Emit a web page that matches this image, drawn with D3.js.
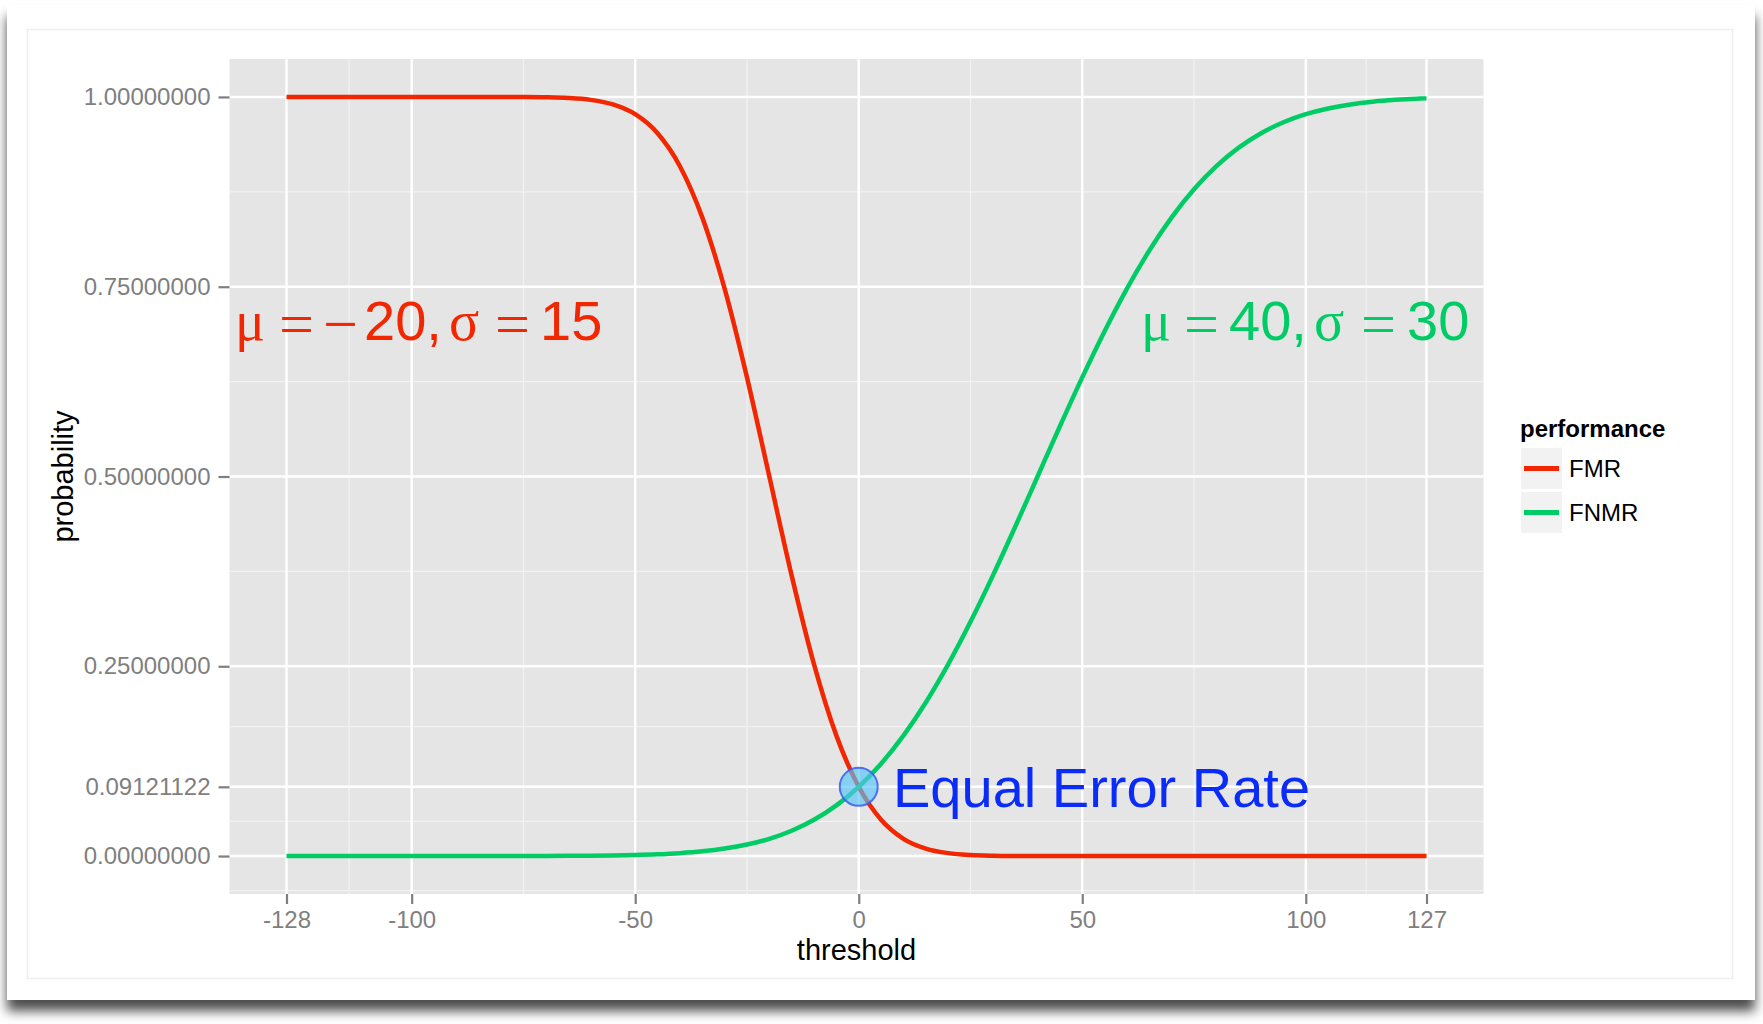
<!DOCTYPE html>
<html>
<head>
<meta charset="utf-8">
<script src="https://cdn.jsdelivr.net/npm/d3@7"></script>
<style>
  body { margin: 0; background: #ffffff; }
  text { font-family: "Liberation Sans", Arial, Helvetica, sans-serif; }
</style>
</head>
<body>
<div id="figure"></div>
<script>
// threshold values
const thresholds = [-128, -125, -120, -115, -110, -105, -100, -95, -90, -85, -80, -75, -70, -65, -60, -55,
  -50, -45, -40, -35, -30, -25, -20, -15, -10, -5, 0, 5, 10, 15, 20, 25, 30, 35, 40, 45, 50, 55,
  60, 65, 70, 75, 80, 85, 90, 95, 100, 105, 110, 115, 120, 125, 127];

// FMR curve (red)
const fmr = [1, 1, 1, 1, 1, 1, 1, 1, 1, 0.99999, 0.99997, 0.99988, 0.99957, 0.99865, 0.99617, 0.99018,
  0.97725, 0.95221, 0.90879, 0.84134, 0.74751, 0.63056, 0.5, 0.36944, 0.25249, 0.15866, 0.09121, 0.04779,
  0.02275, 0.00982, 0.00383, 0.00135, 0.00043, 0.00012, 0.00003, 0, 0, 0, 0, 0, 0, 0, 0, 0, 0, 0, 0, 0,
  0, 0, 0, 0, 0];

// FNMR curve (green)
const fnmr = [0, 0, 0, 0, 0, 0.000001, 0.000002, 0.000003, 0.000007, 0.000015, 0.00003, 0.00006, 0.00012,
  0.00023, 0.00043, 0.00077, 0.00135, 0.0023, 0.00383, 0.00621, 0.00982, 0.01513, 0.02275, 0.03338,
  0.04779, 0.06681, 0.09121, 0.12167, 0.15866, 0.20233, 0.25249, 0.30854, 0.36944, 0.43381, 0.5,
  0.56619, 0.63056, 0.69146, 0.74751, 0.79767, 0.84134, 0.87833, 0.90879, 0.93319, 0.95221, 0.96662,
  0.97725, 0.98487, 0.99018, 0.99379, 0.99617, 0.9977, 0.99813];

const xBreaks = [-128, -100, -50, 0, 50, 100, 127];
const xMinor = [-114, -75, -25, 25, 75, 113.5];
const yBreaks = [0, 0.09121122, 0.25, 0.5, 0.75, 1];
const yTickLabels = ["0.00000000", "0.09121122", "0.25000000", "0.50000000", "0.75000000", "1.00000000"];
const yMinor = [-0.0456, 0.0456, 0.1706, 0.375, 0.625, 0.875];

const seriesNames = ["FMR", "FNMR"];
const seriesColors = ["#f22600", "#00cc66"];
const eer = {threshold: 0, value: 0.09121122};

const W = 1763, H = 1024;
const panel = {left: 229.5, right: 1483.5, top: 59, bottom: 894};

var svg = d3.select("#figure").append("svg")
  .attr("width", W)
  .attr("height", H);

// card with drop shadow
var defs = svg.append("defs");
var f = defs.append("filter").attr("id", "shadow")
  .attr("x", "-5%").attr("y", "-5%").attr("width", "110%").attr("height", "115%");
f.append("feDropShadow")
  .attr("dx", 0).attr("dy", 11).attr("stdDeviation", 6)
  .attr("flood-color", "#000").attr("flood-opacity", 0.7);

svg.append("rect")
  .attr("x", 7).attr("y", 5).attr("width", 1748).attr("height", 995)
  .attr("fill", "#ffffff")
  .attr("filter", "url(#shadow)");
svg.append("rect")
  .attr("x", 27.5).attr("y", 29.5).attr("width", 1705).attr("height", 949)
  .attr("fill", "#ffffff")
  .attr("stroke", "#eeeeee")
  .attr("stroke-width", 1.5);

var x = d3.scaleLinear()
  .domain([-140.75, 139.75])
  .range([panel.left, panel.right]);
var y = d3.scaleLinear()
  .domain([-0.05, 1.05])
  .range([panel.bottom, panel.top]);

// panel background
svg.append("rect")
  .attr("x", panel.left).attr("y", panel.top)
  .attr("width", panel.right - panel.left).attr("height", panel.bottom - panel.top)
  .attr("fill", "#e5e5e5");

// minor grid
svg.append("g").selectAll("line").data(xMinor).enter().append("line")
  .attr("x1", d => x(d)).attr("x2", d => x(d))
  .attr("y1", panel.top).attr("y2", panel.bottom)
  .attr("stroke", "#f2f2f2").attr("stroke-width", 1.2);
svg.append("g").selectAll("line").data(yMinor).enter().append("line")
  .attr("y1", d => y(d)).attr("y2", d => y(d))
  .attr("x1", panel.left).attr("x2", panel.right)
  .attr("stroke", "#f2f2f2").attr("stroke-width", 1.2);

// major grid
svg.append("g").selectAll("line").data(xBreaks).enter().append("line")
  .attr("x1", d => x(d)).attr("x2", d => x(d))
  .attr("y1", panel.top).attr("y2", panel.bottom)
  .attr("stroke", "#ffffff").attr("stroke-width", 2.4);
svg.append("g").selectAll("line").data(yBreaks).enter().append("line")
  .attr("y1", d => y(d)).attr("y2", d => y(d))
  .attr("x1", panel.left).attr("x2", panel.right)
  .attr("stroke", "#ffffff").attr("stroke-width", 2.4);

// axes
var xAxis = svg.append("g")
  .attr("transform", "translate(0," + panel.bottom + ")")
  .call(d3.axisBottom(x).tickValues(xBreaks).tickSize(10).tickPadding(7).tickFormat(d => String(d)));
var yAxis = svg.append("g")
  .attr("transform", "translate(" + panel.left + ",0)")
  .call(d3.axisLeft(y).tickValues(yBreaks).tickSize(11).tickPadding(8)
    .tickFormat((d, i) => yTickLabels[i]));
[xAxis, yAxis].forEach(function(a) {
  a.select(".domain").remove();
  a.selectAll(".tick line").attr("stroke", "#7f7f7f").attr("stroke-width", 2.2);
  a.selectAll(".tick text").attr("fill", "#7f7f7f")
    .style("font-size", "24px")
    .style("font-family", "'Liberation Sans', Arial, sans-serif");
});

// axis titles
svg.append("text")
  .attr("x", (panel.left + panel.right) / 2).attr("y", 960)
  .attr("text-anchor", "middle")
  .style("font-size", "29px").attr("fill", "#000")
  .text("threshold");
svg.append("text")
  .attr("transform", "translate(73," + (panel.top + panel.bottom) / 2 + ") rotate(-90)")
  .attr("text-anchor", "middle")
  .style("font-size", "29px").attr("fill", "#000")
  .text("probability");

// curves
var line = d3.line()
  .x(d => x(d[0]))
  .y(d => y(d[1]))
  .curve(d3.curveMonotoneX);
[fmr, fnmr].forEach(function(vals, k) {
  svg.append("path")
    .datum(thresholds.map((t, i) => [t, vals[i]]))
    .attr("d", line)
    .attr("fill", "none")
    .attr("stroke", seriesColors[k])
    .attr("stroke-width", 4.5);
});

// equal error rate marker
svg.append("circle")
  .attr("cx", x(eer.threshold)).attr("cy", y(eer.value))
  .attr("r", 19)
  .attr("fill", "#55c3f7").attr("fill-opacity", 0.65)
  .attr("stroke", "#3a5cf5").attr("stroke-opacity", 0.85).attr("stroke-width", 2);
svg.append("text")
  .attr("x", 893).attr("y", 807)
  .style("font-size", "56px").attr("fill", "#0b2cf6")
  .text("Equal Error Rate");

// parameter annotations (plotmath style)
var serif = "'Liberation Serif', 'Times New Roman', serif";
var sans = "'Liberation Sans', Arial, sans-serif";
function mathLabel(pieces, color) {
  var t = svg.append("text")
    .attr("y", 340)
    .style("font-size", "56px")
    .attr("fill", color);
  pieces.forEach(function(p) {
    var s = t.append("tspan")
      .attr("x", p[0])
      .attr("y", p[3] ? 345 : 340)
      .style("font-family", p[2] ? serif : sans)
      .text(p[1]);
    if (p[3]) s.style("font-size", "62px");
  });
}
mathLabel([[235, "\u03bc", true], [279, "=", true, true], [323, "\u2212", true, true], [364, "20,", false],
  [449, "\u03c3", true], [495, "=", true, true], [540, "15", false]], seriesColors[0]);
mathLabel([[1141, "\u03bc", true], [1184, "=", true, true], [1229, "40,", false],
  [1314, "\u03c3", true], [1361, "=", true, true], [1407, "30", false]], seriesColors[1]);

// legend
svg.append("text")
  .attr("x", 1520).attr("y", 437)
  .style("font-size", "24px").style("font-weight", "bold").attr("fill", "#000")
  .text("performance");
var leg = svg.append("g").selectAll("g").data(seriesNames).enter().append("g")
  .attr("transform", (d, i) => "translate(1521," + (448 + i * 44) + ")");
leg.append("rect")
  .attr("width", 41).attr("height", 41)
  .attr("fill", "#f2f2f2");
leg.append("line")
  .attr("x1", 3).attr("x2", 38).attr("y1", 20.5).attr("y2", 20.5)
  .attr("stroke", (d, i) => seriesColors[i]).attr("stroke-width", 5);
leg.append("text")
  .attr("x", 48).attr("y", 20.5).attr("dy", "0.36em")
  .style("font-size", "24px").attr("fill", "#000")
  .text(d => d);
</script>
</body>
</html>
